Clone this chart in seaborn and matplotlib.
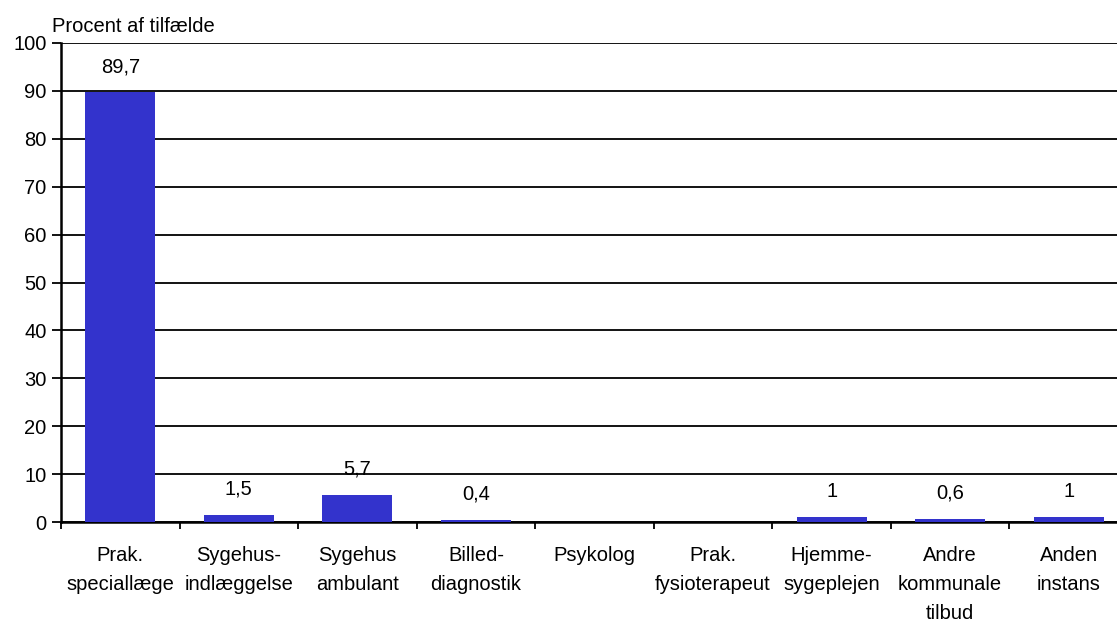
import matplotlib
matplotlib.use("Agg")
import matplotlib.pyplot as plt
import numpy as np
import pandas as pd
import seaborn as sns

categories = [
    "Prak.\nspeciallæge",
    "Sygehus-\nindlæggelse",
    "Sygehus\nambulant",
    "Billed-\ndiagnostik",
    "Psykolog",
    "Prak.\nfysioterapeut",
    "Hjemme-\nsygeplejen",
    "Andre\nkommunale\ntilbud",
    "Anden\ninstans",
]
values = [89.7, 1.5, 5.7, 0.4, 0, 0, 1, 0.6, 1]
value_labels = ["89,7", "1,5", "5,7", "0,4", "", "", "1", "0,6", "1"]
y_ticks = [0, 10, 20, 30, 40, 50, 60, 70, 80, 90, 100]

BAR_COLOUR = "#3333CC"
FS = 14.5

sns.set_theme(style="white")
plt.rcParams["font.family"] = ["Liberation Sans", "DejaVu Sans"]
plt.rcParams["text.color"] = "black"
plt.rcParams["xtick.color"] = "black"
plt.rcParams["ytick.color"] = "black"

df = pd.DataFrame({"kategori": categories, "procent": values})

fig = plt.figure(figsize=(11.17, 6.21), dpi=100)
ax = fig.add_axes([61 / 1117, 99 / 621, 1067 / 1117, 479 / 621])

sns.barplot(data=df, x="kategori", y="procent", color=BAR_COLOUR, width=0.59,
            saturation=1, linewidth=0, ax=ax, zorder=3)

for i, (v, lab) in enumerate(zip(values, value_labels)):
    if lab:
        ax.annotate(lab, (i, v), xytext=(0, 18.5), textcoords="offset points",
                    ha="center", va="center", fontsize=FS, color="black")

ax.set_ylim(0, 100)
ax.set_xlim(-0.5, len(categories) - 0.5)
ax.set_yticks(y_ticks)
ax.yaxis.grid(True, color="black", linewidth=1.3, zorder=0)
ax.set_axisbelow(True)

# category labels at centres, tick marks at the boundaries
ax.set_xticks(np.arange(len(categories)))
ax.set_xticklabels(categories, fontsize=FS, linespacing=1.68)
ax.set_xticks(np.arange(len(categories) + 1) - 0.5, minor=True)
ax.tick_params(axis="x", which="major", length=0, pad=17)
ax.tick_params(axis="x", which="minor", length=5, width=1.3, color="black", bottom=True)
ax.tick_params(axis="y", length=6.5, width=1.3, color="black", pad=4, labelsize=FS, left=True)

for side in ["top", "right"]:
    ax.spines[side].set_visible(False)
for side in ["left", "bottom"]:
    ax.spines[side].set_color("black")
    ax.spines[side].set_linewidth(1.8)

ax.set_xlabel("")
ax.set_ylabel("")
fig.text(52 / 1117, 1 - 27 / 621, "Procent af tilfælde", ha="left", va="center", fontsize=FS)

fig.savefig("out.png", dpi=100)
